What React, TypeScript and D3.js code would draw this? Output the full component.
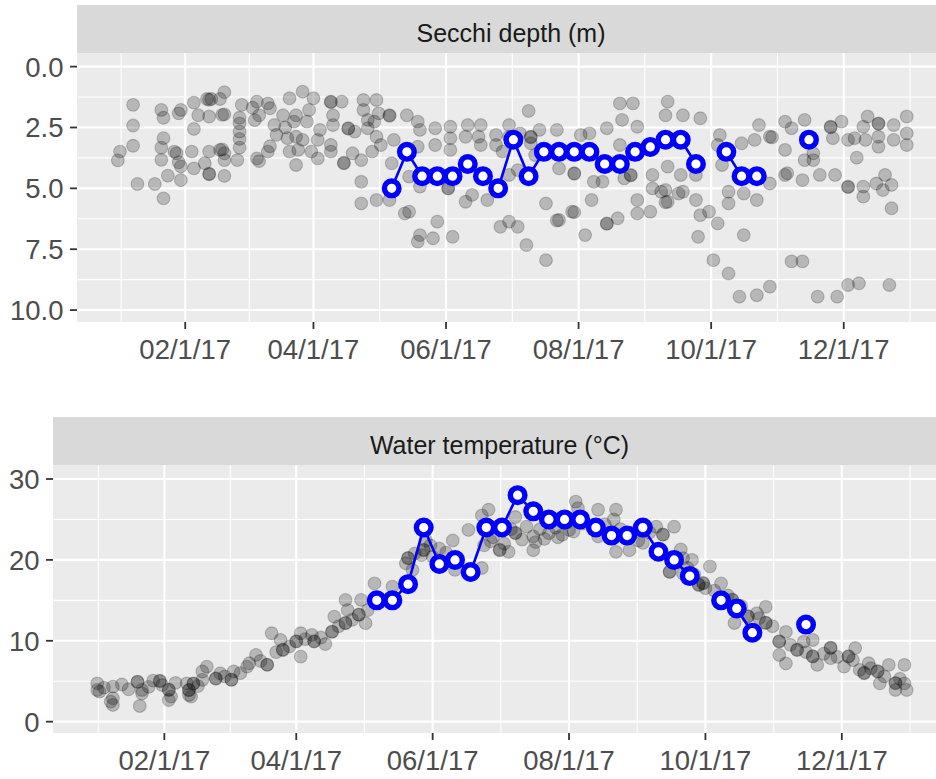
import React from "react";
import * as d3 from "d3";

// day offsets are counted from Jan 1 2017
const jan1 = new Date(2017, 0, 1);
const atDay = (d: number) => new Date(jan1.getTime() + d * 864e5);

const xTickDates = [1, 3, 5, 7, 9, 11].map((m) => new Date(2017, m, 1));
const secchiTicks = [0, 2.5, 5, 7.5, 10];
const tempTicks = [0, 10, 20, 30];

// weekly profile samples (blue), null = not sampled
const weeklyDays = [126, 133, 140, 147, 154, 161, 168, 175, 182, 189, 196, 203, 210, 217, 224, 231, 238, 245, 252, 259, 266, 273, 280, 287, 294, 301, 308, 318];
const weeklySecchi = [5.0, 3.5, 4.5, 4.5, 4.5, 4.0, 4.5, 5.0, 3.0, 4.5, 3.5, 3.5, 3.5, 3.5, 4.0, 4.0, 3.5, 3.3, 3.0, 3.0, 4.0, null, 3.5, 4.5, 4.5, null, null, 3.0];
const weeklyTemp = [15, 15, 17, 24, 19.5, 20, 18.5, 24, 24, 28, 26, 25, 25, 25, 24, 23, 23, 24, 21, 20, 18, null, 15, 14, 11, null, null, 12];

// all other stations [day, Secchi depth m]
const secchiObs: [number, number][] = [
  [7, 1.57], [7, 2.42], [7, 3.25], [1, 3.49], [0, 3.85], [9, 4.82], [17, 4.82], [21, 5.41], [20, 1.78], [21, 2.1],
  [21, 2.94], [20, 3.33], [20, 3.83], [26, 3.49], [27, 3.56], [28, 3.93], [29, 4.1], [23, 4.48], [29, 4.66], [28, 1.92],
  [29, 1.78], [34, 3.49], [35, 4.18], [35, 2.56], [35, 1.48], [40, 3.97], [42, 3.49], [42, 4.42], [42, 4.4], [41, 1.33],
  [43, 1.33], [42, 1.36], [42, 2.05], [37, 2.0], [47, 3.42], [48, 3.4], [49, 3.56], [49, 4.49], [49, 3.84], [49, 1.96],
  [48, 1.98], [49, 1.05], [47, 1.33], [55, 3.84], [56, 3.33], [56, 2.97], [56, 2.67], [56, 2.33], [56, 2.1], [57, 1.57],
  [65, 3.88], [64, 3.77], [62, 1.69], [64, 1.44], [63, 2.2], [65, 2.0], [69, 3.49], [70, 3.27], [72, 2.4], [73, 2.8],
  [69, 1.51], [70, 1.71], [76, 2.0], [78, 2.94], [79, 3.49], [79, 1.3], [77, 2.5], [82, 4.04], [81, 2.26],
  [85, 1.03], [82, 2.0], [88, 1.78], [90, 1.3], [87, 2.26], [93, 2.6], [82, 2.88], [85, 3.01], [92, 3.01], [83, 3.42],
  [89, 3.49], [92, 3.77], [98, 1.44], [98, 1.46], [103, 1.44], [99, 2.0], [99, 2.4], [98, 3.22], [98, 3.49], [104, 3.97],
  [104, 3.95], [106, 2.53], [106, 2.55], [108, 3.56], [109, 2.67], [113, 1.37], [113, 1.78], [115, 2.19], [115, 2.53], [119, 1.37],
  [120, 1.92], [118, 2.26], [119, 2.88], [121, 3.22], [117, 3.49], [112, 3.84], [125, 2.0], [125, 2.02], [127, 3.01], [126, 3.97],
  [133, 2.0], [138, 2.26], [139, 2.6], [138, 3.29], [134, 4.52], [139, 4.93], [112, 4.73], [112, 5.62], [119, 5.48], [125, 5.48],
  [132, 6.03], [134, 5.96], [139, 6.92], [138, 7.19], [145, 7.05], [154, 6.99], [147, 6.37], [146, 2.53], [146, 3.22], [153, 2.47],
  [153, 2.94], [153, 3.42], [161, 2.4], [167, 2.4], [160, 2.88], [166, 2.88], [167, 3.22], [174, 2.81], [174, 3.22], [177, 3.49],
  [180, 2.88], [152, 4.99], [152, 5.01], [160, 5.55], [163, 5.27], [170, 5.48], [176, 6.58], [180, 6.37],
  [189, 1.82], [180, 2.4], [185, 2.74], [190, 2.88], [190, 2.9], [194, 2.6], [202, 2.6], [190, 3.15], [192, 3.63], [180, 4.45],
  [184, 4.25], [203, 4.18], [210, 4.38], [210, 4.4], [213, 2.81], [217, 2.74], [219, 4.73], [223, 4.73], [225, 2.53], [232, 2.19],
  [231, 3.22], [231, 1.51], [237, 1.51], [239, 2.47], [236, 4.45], [236, 4.47], [233, 4.59], [197, 5.62], [209, 5.96], [210, 5.98],
  [203, 6.3], [202, 6.32], [184, 6.58], [188, 7.33], [197, 7.95], [215, 6.92], [218, 5.48], [225, 6.44], [225, 6.46], [230, 6.23],
  [239, 5.48], [239, 6.03], [245, 5.96], [246, 4.45], [246, 5.0], [250, 5.14], [253, 5.55], [252, 5.57], [252, 5.07], [258, 5.21],
  [260, 5.14], [266, 5.48], [253, 1.44], [252, 2.0], [260, 2.0], [268, 2.12], [253, 4.11], [259, 4.45], [266, 4.45], [268, 6.1],
  [267, 6.99], [272, 5.96], [276, 6.44], [274, 7.95], [277, 2.81], [278, 4.04], [276, 3.22],
  [281, 8.5], [286, 9.45], [294, 9.39], [300, 9.04], [310, 8.0], [315, 8.0], [322, 9.45], [331, 9.45], [336, 8.97], [341, 8.9],
  [355, 8.97], [281, 5.62], [288, 6.92], [281, 5.14], [288, 5.21], [294, 5.48], [295, 2.4], [287, 3.15], [293, 3.01], [300, 2.88],
  [301, 2.9], [300, 4.8], [307, 4.45], [308, 4.38], [307, 2.26], [310, 2.53], [307, 3.42], [316, 2.19], [315, 4.66], [316, 3.84],
  [320, 3.84], [320, 3.56], [328, 2.47], [328, 2.49], [329, 2.94], [333, 2.26], [336, 3.01], [339, 2.94], [340, 3.74], [323, 4.45],
  [330, 4.45], [336, 4.93], [336, 4.95], [343, 5.34], [343, 4.93], [345, 2.05], [343, 2.47], [344, 3.01], [350, 2.33], [350, 2.35],
  [350, 2.88], [350, 3.29], [349, 4.8], [352, 5.07], [353, 4.45], [356, 4.86], [356, 5.82], [357, 2.4], [357, 3.01], [363, 2.05],
  [363, 2.74], [363, 3.22],
];

// all other stations [day, water temperature °C]
const tempObs: [number, number][] = [
  [1, 4.74], [1, 3.92], [2, 3.71], [8, 4.33], [8, 2.89], [8, 2.07], [7, 2.48], [15, 4.0], [20, 1.94], [19, 4.95],
  [19, 4.9], [21, 3.92], [21, 3.5], [26, 5.07], [29, 5.07], [29, 5.0], [30, 4.53], [33, 3.92], [33, 3.95], [33, 2.68],
  [34, 3.1], [41, 4.74], [42, 3.92], [42, 3.9], [44, 4.74], [44, 4.7], [42, 3.3], [43, 3.1], [48, 5.16], [50, 6.8],
  [48, 6.2], [54, 5.36], [54, 5.3], [56, 5.98], [61, 5.16], [61, 5.2], [62, 6.2], [68, 6.8], [69, 7.22], [72, 8.25],
  [77, 7.02], [77, 7.05], [4, 4.2], [12, 4.6], [24, 4.3], [36, 4.8], [46, 4.4], [58, 5.6], [65, 6.0], [74, 7.5], [81, 8.6],
  [79, 10.93], [84, 8.86], [84, 8.9], [83, 10.1], [90, 9.9], [90, 9.95], [92, 10.93], [92, 8.04], [97, 10.72], [98, 9.9],
  [98, 9.95], [106, 11.13], [106, 11.1], [107, 12.98], [112, 15.05], [112, 12.18], [112, 12.2], [113, 13.8], [118, 13.2], [118, 13.25],
  [121, 12.18], [119, 15.05], [125, 17.1], [122, 13.8], [133, 16.7], [139, 19.58], [140, 20.2], [140, 20.25], [142, 18.76], [147, 21.2],
  [147, 21.25], [148, 22.4], [146, 20.6], [154, 21.4], [160, 22.4], [161, 18.76], [167, 23.7], [173, 25.5], [174, 21.8], [173, 19],
  [87, 9.3], [94, 10.2], [101, 10.4], [103, 9.6], [109, 11.8], [115, 12.6], [143, 20.8], [150, 21.8], [151, 20.4], [157, 20.9],
  [176, 26.2], [177, 22.3], [181, 21.2], [181, 21.25], [185, 21.0], [188, 25.3], [188, 23.3], [188, 23.35], [193, 24.1], [196, 22.9],
  [196, 21.2], [197, 22.2], [203, 23.3], [209, 23.1], [212, 23.7], [215, 27.2], [216, 26.4], [218, 24.5], [225, 26.2], [233, 26.2],
  [232, 25], [233, 21], [225, 22.9], [239, 21.2], [238, 22.9], [245, 22.1], [251, 24.1], [254, 23.1], [254, 23.15], [259, 24.1],
  [257, 18.5], [257, 18.55], [263, 20.2], [267, 20], [270, 16.9], [270, 16.95], [263, 18.3],
  [178, 22.8], [183, 22.0], [186, 23.8], [191, 22.5], [199, 23.8], [201, 22.6], [206, 24.0], [207, 22.8], [211, 24.6], [214, 23.5],
  [228, 24.4], [235, 23.8], [241, 23.4], [243, 22.4], [248, 23.4], [262, 21.3], [265, 19.0], [268, 18.2],
  [275, 19.2], [272, 17.1], [272, 17.15], [280, 17.1], [273, 16.5], [285, 15.05], [285, 15.1], [286, 12.2], [292, 13.0], [292, 13.05],
  [300, 14.2], [300, 12.2], [300, 12.25], [296, 13.4], [306, 9.9], [306, 9.95], [309, 11.1], [306, 8.25], [309, 7.2], [314, 8.86],
  [314, 8.9], [317, 9.9], [321, 8.04], [321, 8.1], [323, 7.02], [321, 10.1], [329, 9.1], [329, 9.15], [329, 7.85], [335, 6.8],
  [337, 8.04], [337, 8.1], [340, 9.1], [342, 6.4], [344, 5.98], [344, 6.05], [350, 6.2], [350, 6.25], [355, 7.02], [351, 4.74],
  [358, 4.74], [358, 4.8], [358, 3.92], [362, 7.02], [363, 3.92], [362, 4.74], [346, 7.22],
  [277, 16.2], [283, 15.6], [289, 14.3], [297, 12.8], [303, 11.8], [311, 9.5], [318, 8.6], [326, 8.4], [332, 8.0], [339, 7.6],
  [347, 6.6], [353, 5.6], [360, 5.3],
];

const FONT = "'Liberation Sans', Arial, Helvetica, sans-serif";
const fmtDate = d3.timeFormat("%m/%-d/%y");

// ggplot style minor breaks: halfway between majors, extended one half-step each side
function minorOf(v: number[]) {
  const n = v.length;
  const mids = v.slice(1).map((b, i) => (b + v[i]) / 2);
  return [v[0] - (v[1] - v[0]) / 2, ...mids, v[n - 1] + (v[n - 1] - v[n - 2]) / 2];
}

type Box = { left: number; right: number; top: number; bottom: number; stripTop: number };

function Facet({ id, box, title, yDomain, yTicks, yFormat, obs, weekly }: {
  id: string; box: Box; title: string; yDomain: [number, number]; yTicks: number[];
  yFormat: (v: number) => string; obs: [number, number][]; weekly: (number | null)[];
}) {
  const x = d3.scaleTime().domain([atDay(-18.8), atDay(380.6)]).range([box.left, box.right]);
  const y = d3.scaleLinear().domain(yDomain).range([box.top, box.bottom]);
  const xMinor = minorOf(xTickDates.map((d) => +d)).map((t) => new Date(t));
  const yMinor = minorOf(yTicks);
  const series = weeklyDays.map((d, i) => ({ date: d3.timeDay.offset(jan1, d), v: weekly[i] }));
  const line = d3.line<{ date: Date; v: number | null }>()
    .defined((d) => d.v != null)
    .x((d) => x(d.date))
    .y((d) => y(d.v as number));

  return (
    <g>
      <defs>
        <clipPath id={id}>
          <rect x={box.left} y={box.top} width={box.right - box.left} height={box.bottom - box.top} />
        </clipPath>
      </defs>
      <rect x={box.left} y={box.stripTop} width={box.right - box.left} height={box.top - box.stripTop} fill="#D9D9D9" />
      <text x={(box.left + box.right) / 2} y={box.stripTop + 36.8} textAnchor="middle" fontSize={25} fill="#1A1A1A" fontFamily={FONT}>
        {title}
      </text>
      <rect x={box.left} y={box.top} width={box.right - box.left} height={box.bottom - box.top} fill="#EBEBEB" />
      <g clipPath={`url(#${id})`}>
        {yMinor.map((v) => (
          <line key={"ym" + v} x1={box.left} x2={box.right} y1={y(v)} y2={y(v)} stroke="#fff" strokeWidth={1.1} />
        ))}
        {xMinor.map((d) => (
          <line key={"xm" + +d} x1={x(d)} x2={x(d)} y1={box.top} y2={box.bottom} stroke="#fff" strokeWidth={1.1} />
        ))}
        {yTicks.map((v) => (
          <line key={"y" + v} x1={box.left} x2={box.right} y1={y(v)} y2={y(v)} stroke="#fff" strokeWidth={2.1} />
        ))}
        {xTickDates.map((d) => (
          <line key={"x" + +d} x1={x(d)} x2={x(d)} y1={box.top} y2={box.bottom} stroke="#fff" strokeWidth={2.1} />
        ))}
        {obs.map(([d, v], i) => (
          <circle key={i} cx={x(d3.timeDay.offset(jan1, d))} cy={y(v)} r={6.4}
            fill="#000" fillOpacity={0.22} stroke="#000" strokeOpacity={0.2} strokeWidth={1.1} />
        ))}
        <path d={line(series) || ""} fill="none" stroke="#0000FF" strokeWidth={2.6} />
        {series.filter((d) => d.v != null).map((d, i) => (
          <circle key={"w" + i} cx={x(d.date)} cy={y(d.v as number)} r={7.3} fill="#fff" stroke="#0000FF" strokeWidth={5.4} />
        ))}
      </g>
      {yTicks.map((v) => (
        <g key={"yt" + v}>
          <line x1={box.left - 7} x2={box.left} y1={y(v)} y2={y(v)} stroke="#333" strokeWidth={1.8} />
          <text x={box.left - 13.5} y={y(v) + 10} textAnchor="end" fontSize={27.5} fill="#4D4D4D" fontFamily={FONT}>
            {yFormat(v)}
          </text>
        </g>
      ))}
      {xTickDates.map((d) => (
        <g key={"xt" + +d}>
          <line x1={x(d)} x2={x(d)} y1={box.bottom} y2={box.bottom + 7} stroke="#333" strokeWidth={1.8} />
          <text x={x(d)} y={box.bottom + 36.5} textAnchor="middle" fontSize={27.5} fill="#4D4D4D" fontFamily={FONT}>
            {fmtDate(d)}
          </text>
        </g>
      ))}
    </g>
  );
}

export default function App() {
  return (
    <svg width={936} height={779} style={{ position: "absolute", left: 0, top: 0, background: "#fff" }}>
      <Facet id="clip-secchi" title="Secchi depth (m)"
        box={{ left: 77, right: 945, top: 53, bottom: 322, stripTop: 5 }}
        yDomain={[-0.56, 10.49]} yTicks={secchiTicks} yFormat={d3.format(".1f")}
        obs={secchiObs} weekly={weeklySecchi} />
      <Facet id="clip-temp" title="Water temperature (°C)"
        box={{ left: 53, right: 946, top: 465, bottom: 733, stripTop: 417 }}
        yDomain={[31.73, -1.4]} yTicks={tempTicks} yFormat={(v) => String(v)}
        obs={tempObs} weekly={weeklyTemp} />
    </svg>
  );
}
